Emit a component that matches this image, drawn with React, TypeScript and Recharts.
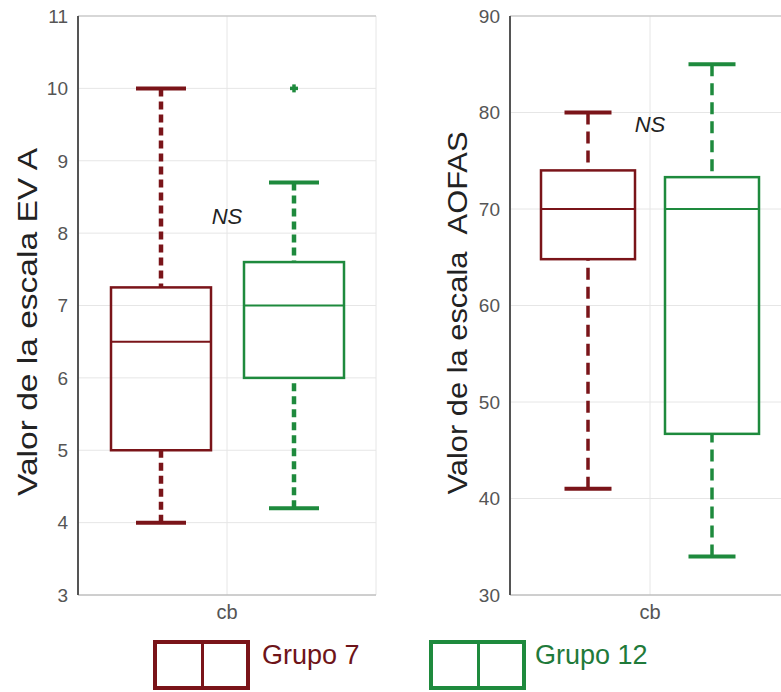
import { BarChart, Bar, XAxis, YAxis, CartesianGrid, ReferenceLine, ReferenceDot } from "recharts";

const categories = ["cb"];
const groupNames = ["Grupo 7", "Grupo 12"];
const groupColors = ["#7a1419", "#1e8a3d"];
const legendTextColors = ["#6e1419", "#1f7a3a"];

// EVA panel (left)
const evaTicks = [3, 4, 5, 6, 7, 8, 9, 10, 11];
const evaLow = [4, 4.2];
const evaQ1 = [5, 6];
const evaMedian = [6.5, 7];
const evaQ3 = [7.25, 7.6];
const evaHigh = [10, 8.7];
const evaOutliers = [[], [10]];

// AOFAS panel (right)
const aofasTicks = [30, 40, 50, 60, 70, 80, 90];
const aofasLow = [41, 34];
const aofasQ1 = [64.8, 46.7];
const aofasMedian = [70, 70];
const aofasQ3 = [74, 73.3];
const aofasHigh = [80, 85];
const aofasOutliers: number[][] = [[], []];

const FONT = "Liberation Sans, Arial, sans-serif";

type Stats = { low: number; q1: number; med: number; q3: number; high: number; out: number[] };

const makeStats = (low: number[], q1: number[], med: number[], q3: number[], high: number[], out: number[][]): Stats[] =>
  low.map((_, i) => ({ low: low[i], q1: q1[i], med: med[i], q3: q3[i], high: high[i], out: out[i] }));

const makeData = (stats: Stats[]) =>
  categories.map(name => {
    const row: any = { name };
    stats.forEach((s, i) => {
      row["g" + i] = [Math.min(s.low, ...s.out), Math.max(s.high, ...s.out)];
    });
    return row;
  });

function BoxShape(props: any) {
  const { x, y, width, height, stats, color, dash, wStroke, boxStroke, capStroke } = props;
  const s: Stats = stats;
  const lo = Math.min(s.low, ...s.out);
  const hi = Math.max(s.high, ...s.out);
  const top = Math.min(y, y + height);
  const bot = Math.max(y, y + height);
  const py = (v: number) => bot - ((v - lo) / (hi - lo)) * (bot - top);
  const cx = x + width / 2;
  const cap = width / 4;
  return (
    <g>
      <line x1={cx} x2={cx} y1={py(s.high)} y2={py(s.q3)} stroke={color} strokeWidth={wStroke} strokeDasharray={dash} />
      <line x1={cx} x2={cx} y1={py(s.low)} y2={py(s.q1)} stroke={color} strokeWidth={wStroke} strokeDasharray={dash} />
      <line x1={cx - cap} x2={cx + cap} y1={py(s.high)} y2={py(s.high)} stroke={color} strokeWidth={capStroke} />
      <line x1={cx - cap} x2={cx + cap} y1={py(s.low)} y2={py(s.low)} stroke={color} strokeWidth={capStroke} />
      <rect x={x} y={py(s.q3)} width={width} height={py(s.q1) - py(s.q3)} fill="none" stroke={color} strokeWidth={boxStroke} />
      <line x1={x} x2={x + width} y1={py(s.med)} y2={py(s.med)} stroke={color} strokeWidth={2} />
      {s.out.map((o, k) => (
        <g key={k}>
          <line x1={cx - 4} x2={cx + 4} y1={py(o)} y2={py(o)} stroke={color} strokeWidth={3.5} />
          <line x1={cx} x2={cx} y1={py(o) - 4} y2={py(o) + 4} stroke={color} strokeWidth={3.5} />
        </g>
      ))}
    </g>
  );
}

function YTick(props: any) {
  const { x, y, payload } = props;
  return (
    <text x={x} y={y} dy="0.36em" textAnchor="end" fontSize={19} fill="#555" fontFamily={FONT}>
      {payload.value}
    </text>
  );
}

function XTick(props: any) {
  const { x, y, payload } = props;
  return (
    <text x={x} y={y} dy="0.72em" textAnchor="middle" fontSize={20} fill="#555" fontFamily={FONT}>
      {payload.value}
    </text>
  );
}

function Panel(p: any) {
  const data = makeData(p.stats);
  return (
    <div style={{ position: "absolute", left: p.left, top: 0 }}>
      <BarChart width={p.width} height={630} data={data} margin={p.margin} barGap={p.barGap}>
        <CartesianGrid stroke="#e6e6e6" />
        <XAxis dataKey="name" tickLine={false} tickMargin={4} axisLine={{ stroke: "#aaa" }} tick={<XTick />} height={30} />
        <YAxis
          domain={[p.ticks[0], p.ticks[p.ticks.length - 1]]}
          ticks={p.ticks}
          width={p.yWidth}
          tickLine={false}
          tickMargin={4}
          tick={<YTick />}
          axisLine={{ stroke: "#555", strokeWidth: 2 }}
          label={{
            content: () => (
              <text
                x={p.labelX}
                y={p.labelY}
                transform={`rotate(-90 ${p.labelX} ${p.labelY})`}
                textAnchor="middle"
                fontSize={28}
                fill="#222"
                fontFamily={FONT}
                textLength={p.labelLen}
                lengthAdjust="spacingAndGlyphs"
              >
                {p.yLabel}
              </text>
            ),
          }}
        />
        <YAxis
          yAxisId="r"
          orientation="right"
          mirror
          width={0}
          domain={[p.ticks[0], p.ticks[p.ticks.length - 1]]}
          ticks={p.ticks}
          tickSize={6}
          tickLine={{ stroke: "#777" }}
          tick={() => <g />}
          axisLine={{ stroke: "#555", strokeWidth: 1.5 }}
        />
        <ReferenceLine y={p.ticks[p.ticks.length - 1]} stroke="#bbb" />
        {p.stats.map((s: Stats, i: number) => (
          <Bar
            key={i}
            dataKey={"g" + i}
            name={groupNames[i]}
            barSize={p.barSize}
            isAnimationActive={false}
            shape={(sp: any) => (
              <BoxShape
                {...sp}
                stats={s}
                color={groupColors[i]}
                dash={p.dash}
                wStroke={p.wStroke}
                boxStroke={p.boxStroke}
                capStroke={p.capStroke}
              />
            )}
          />
        ))}
        <ReferenceDot
          x="cb"
          y={p.nsY}
          r={1}
          fill="none"
          stroke="none"
          label={{ value: "NS", position: "center", fontSize: 22, fontStyle: "italic", fill: "#222", fontFamily: FONT }}
        />
      </BarChart>
    </div>
  );
}

function LegendItem({ i, boxLeft, textLeft }: { i: number; boxLeft: number; textLeft: number }) {
  return (
    <>
      <div
        style={{
          position: "absolute",
          left: boxLeft,
          top: 640,
          width: 97,
          height: 50,
          boxSizing: "border-box",
          border: `4px solid ${groupColors[i]}`,
        }}
      >
        <div style={{ position: "absolute", left: 44, top: 0, width: 3, height: "100%", background: groupColors[i] }} />
      </div>
      <div
        style={{
          position: "absolute",
          left: textLeft,
          top: 642,
          fontSize: 27,
          lineHeight: "27px",
          color: legendTextColors[i],
          fontFamily: FONT,
          whiteSpace: "nowrap",
        }}
      >
        {groupNames[i]}
      </div>
    </>
  );
}

export default function App() {
  const eva = makeStats(evaLow, evaQ1, evaMedian, evaQ3, evaHigh, evaOutliers);
  const aofas = makeStats(aofasLow, aofasQ1, aofasMedian, aofasQ3, aofasHigh, aofasOutliers);
  return (
    <div style={{ position: "fixed", left: 0, top: 0, width: 781, height: 692, overflow: "hidden", background: "#fff" }}>
      <Panel
        left={0}
        width={400}
        margin={{ top: 16, right: 24, left: 0, bottom: 5 }}
        yWidth={78}
        ticks={evaTicks}
        stats={eva}
        barSize={100}
        barGap={33}
        yLabel="Valor de la escala EV A"
        labelX={37}
        labelY={322}
        labelLen={348}
        nsY={8.24}
        dash="8 5"
        wStroke={4.5}
        boxStroke={2.5}
        capStroke={4}
      />
      <Panel
        left={400}
        width={400}
        margin={{ top: 16, right: 10, left: 0, bottom: 5 }}
        yWidth={110}
        ticks={aofasTicks}
        stats={aofas}
        barSize={94}
        barGap={30}
        yLabel={"Valor de la escala \u00a0AOFAS"}
        labelX={67}
        labelY={313}
        labelLen={363}
        nsY={78.8}
        dash="12 7"
        wStroke={3.5}
        boxStroke={2.5}
        capStroke={4}
      />
      <LegendItem i={0} boxLeft={153} textLeft={262} />
      <LegendItem i={1} boxLeft={429} textLeft={535} />
    </div>
  );
}
